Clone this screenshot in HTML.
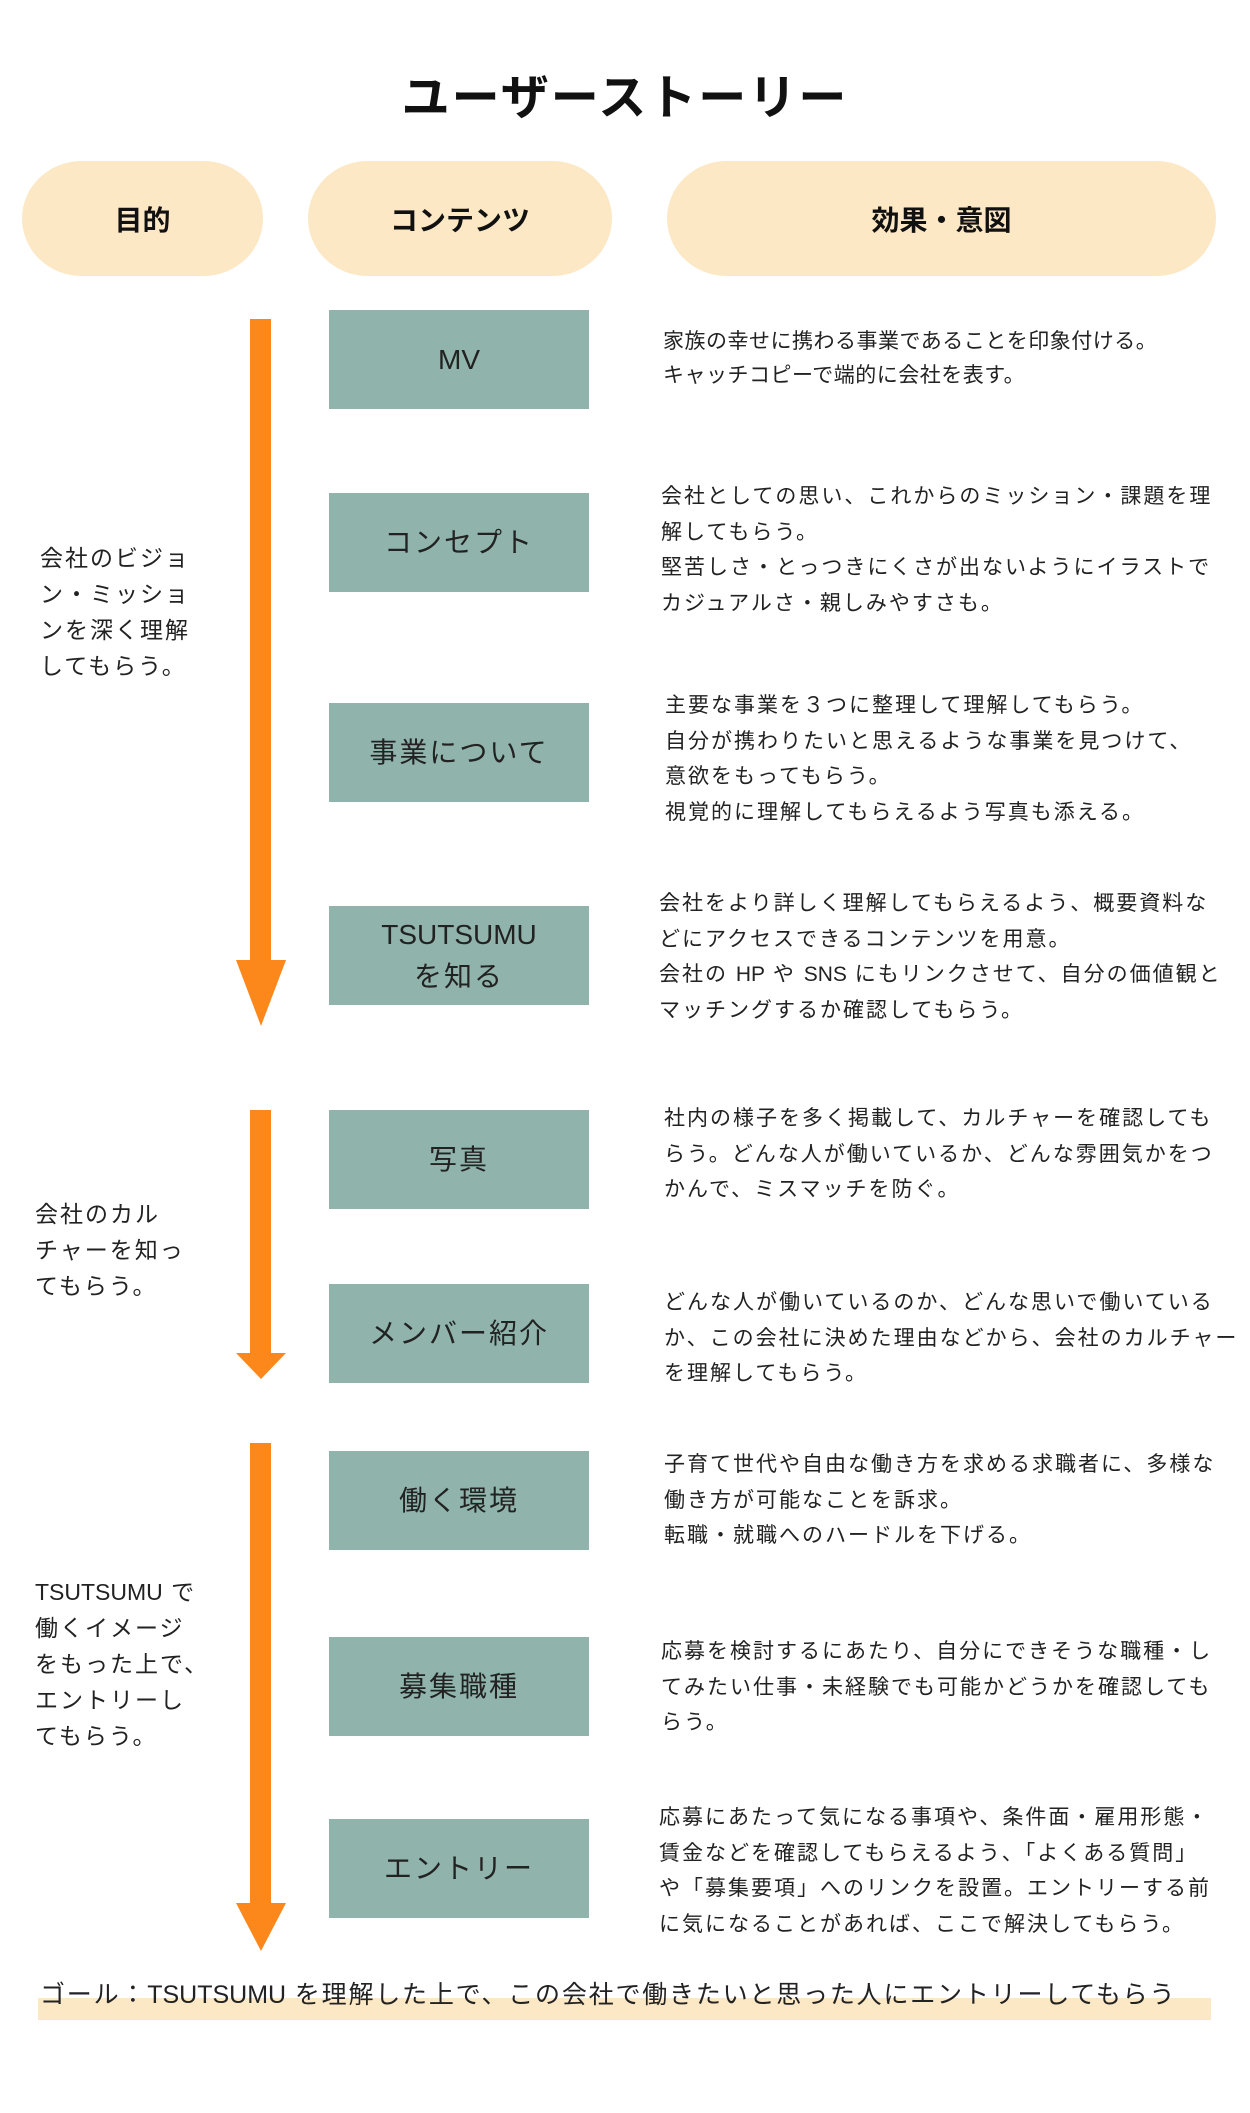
<!DOCTYPE html>
<html><head><meta charset="utf-8"><style>
html,body{margin:0;padding:0;background:#fff}
body{width:1250px;height:2113px;position:relative;overflow:hidden;font-family:"Liberation Sans","Noto Sans CJK JP",sans-serif;color:#222}
.a{position:absolute}
.pill{position:absolute;background:#fde8c6;border-radius:60px/58px;top:161px;height:115px;display:flex;align-items:center;justify-content:center;font-weight:bold;font-size:28px;color:#111}
.box{position:absolute;left:329px;width:260px;height:99px;background:#90b4ac;display:flex;align-items:center;justify-content:center;text-align:center;font-size:28px;letter-spacing:2px;line-height:42px;color:#222}
.d{position:absolute;left:663px;font-size:21px;line-height:35.5px;letter-spacing:2px;white-space:nowrap;color:#222}
.l{position:absolute;font-size:23px;line-height:36px;letter-spacing:2px;white-space:nowrap;color:#222}
.e{letter-spacing:0}
.shaft{position:absolute;left:250px;width:21px;background:#fc871b}
.head{position:absolute;width:0;height:0;border-left:25px solid transparent;border-right:25px solid transparent;border-top-style:solid;border-top-color:#fc871b;left:236px}
</style></head><body>
<div class="a" style="left:0;width:1250px;top:58px;text-align:center;font-size:48px;font-weight:bold;color:#111;letter-spacing:2px">ユーザーストーリー</div>
<div class="pill" style="left:22px;width:241px">目的</div>
<div class="pill" style="left:308px;width:304px">コンテンツ</div>
<div class="pill" style="left:667px;width:549px">効果・意図</div>

<div class="shaft" style="top:319px;height:642px"></div>
<div class="head" style="top:960px;border-top-width:66px"></div>
<div class="shaft" style="top:1110px;height:244px"></div>
<div class="head" style="top:1353px;border-top-width:26px"></div>
<div class="shaft" style="top:1443px;height:462px"></div>
<div class="head" style="top:1903px;border-top-width:48px"></div>

<div class="box" style="top:310px"><div class="e">MV</div></div>
<div class="box" style="top:493px"><div>コンセプト</div></div>
<div class="box" style="top:703px"><div>事業について</div></div>
<div class="box" style="top:906px"><div><span class="e">TSUTSUMU</span><br>を知る</div></div>
<div class="box" style="top:1110px"><div>写真</div></div>
<div class="box" style="top:1284px"><div>メンバー紹介</div></div>
<div class="box" style="top:1451px"><div>働く環境</div></div>
<div class="box" style="top:1637px"><div>募集職種</div></div>
<div class="box" style="top:1819px"><div>エントリー</div></div>

<div class="l" style="left:40px;top:540px">会社のビジョ<br>ン・ミッショ<br>ンを深く理解<br>してもらう。</div>
<div class="l" style="left:35px;top:1196px">会社のカル<br>チャーを知っ<br>てもらう。</div>
<div class="l" style="left:35px;top:1574px"><span class="e">TSUTSUMU</span> で<br>働くイメージ<br>をもった上で、<br>エントリーし<br>てもらう。</div>

<div class="d" style="top:325px;letter-spacing:0.5px;line-height:34px">家族の幸せに携わる事業であることを印象付ける。<br>キャッチコピーで端的に会社を表す。</div>
<div class="d" style="top:479px;left:661px">会社としての思い、これからのミッション・課題を理<br>解してもらう。<br>堅苦しさ・とっつきにくさが出ないようにイラストで<br>カジュアルさ・親しみやすさも。</div>
<div class="d" style="top:688px;left:665px">主要な事業を３つに整理して理解してもらう。<br>自分が携わりたいと思えるような事業を見つけて、<br>意欲をもってもらう。<br>視覚的に理解してもらえるよう写真も添える。</div>
<div class="d" style="top:886px;left:659px">会社をより詳しく理解してもらえるよう、概要資料な<br>どにアクセスできるコンテンツを用意。<br>会社の <span class="e">HP</span> や <span class="e">SNS</span> にもリンクさせて、自分の価値観と<br>マッチングするか確認してもらう。</div>
<div class="d" style="top:1101px;left:664px">社内の様子を多く掲載して、カルチャーを確認しても<br>らう。どんな人が働いているか、どんな雰囲気かをつ<br>かんで、ミスマッチを防ぐ。</div>
<div class="d" style="top:1285px;left:664px">どんな人が働いているのか、どんな思いで働いている<br>か、この会社に決めた理由などから、会社のカルチャー<br>を理解してもらう。</div>
<div class="d" style="top:1447px;left:664px">子育て世代や自由な働き方を求める求職者に、多様な<br>働き方が可能なことを訴求。<br>転職・就職へのハードルを下げる。</div>
<div class="d" style="top:1634px;left:661px">応募を検討するにあたり、自分にできそうな職種・し<br>てみたい仕事・未経験でも可能かどうかを確認しても<br>らう。</div>
<div class="d" style="top:1800px;left:659px">応募にあたって気になる事項や、条件面・雇用形態・<br>賃金などを確認してもらえるよう、「よくある質問」<br>や「募集要項」へのリンクを設置。エントリーする前<br>に気になることがあれば、ここで解決してもらう。</div>

<div class="a" style="left:38px;top:1998px;width:1173px;height:22px;background:#fde8c6"></div>
<div class="a" style="left:40px;top:1975px;font-size:25px;line-height:40px;letter-spacing:1.8px;white-space:nowrap;color:#222">ゴール：<span class="e">TSUTSUMU</span> を理解した上で、この会社で働きたいと思った人にエントリーしてもらう</div>
</body></html>
